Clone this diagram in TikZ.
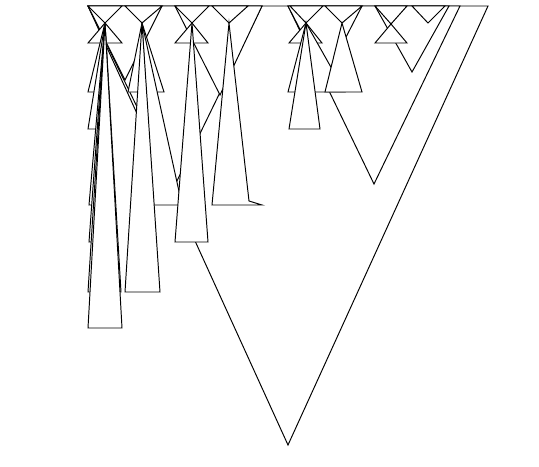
\documentclass[tikz,border=0pt]{standalone}
\begin{document}
\begin{tikzpicture}[x=0.02cm, y=-0.02cm,
	dreieck/.style={draw=black, fill=white, line width=0.55pt}]
	
	\useasboundingbox (0,0) rectangle (539,467);
	
	% Großes Dreieck
	\draw[dreieck] (88,6) -- (488,6) -- (288,445) -- cycle;
	
	% Linke und rechte Hälfte
	\draw[dreieck] (88,6) -- (262,6) -- (175,185) -- cycle;
	\draw[dreieck] (288,6) -- (460,6) -- (374,184) -- cycle;
	
	% Viertel
	\draw[dreieck] (88,6) -- (162,6) -- (125,80) -- cycle;
	\draw[dreieck] (175,6) -- (262,6) -- (220,95) -- cycle;
	\draw[dreieck] (288,6) -- (362,6) -- (325,78) -- cycle;
	\draw[dreieck] (375,6) -- (449,6) -- (412,72) -- cycle;
	
	% Kleine Dreiecke oben (Spitze nach unten)
	\draw[dreieck] (88,6) -- (122,6) -- (105,23) -- cycle;
	\draw[dreieck] (125,6) -- (162,6) -- (142,23) -- cycle;
	\draw[dreieck] (175,6) -- (209,6) -- (192,23) -- cycle;
	\draw[dreieck] (212,6) -- (248,6) -- (229,23) -- cycle;
	\draw[dreieck] (290,6) -- (323,6) -- (306,23) -- cycle;
	\draw[dreieck] (325,6) -- (362,6) -- (342,23) -- cycle;
	\draw[dreieck] (375,6) -- (407,6) -- (391,24) -- cycle;
	\draw[dreieck] (412,6) -- (445,6) -- (428,23) -- cycle;
	
	% Sanduhr: Dreiecke mit Spitze nach oben
	\draw[dreieck] (88,43) -- (122,43) -- (105,23) -- cycle;
	\draw[dreieck] (175,43) -- (208,43) -- (192,23) -- cycle;
	\draw[dreieck] (289,43) -- (322,43) -- (306,23) -- cycle;
	\draw[dreieck] (375,43) -- (407,43) -- (391,24) -- cycle;
	
	% Schmale hohe Dreiecke, Gruppe rechts
	\draw[dreieck] (306,23) -- (288,92) -- (300,92) -- cycle;
	\draw[dreieck] (306,23) -- (312,92) -- (345,92) -- cycle;
	\draw[dreieck] (342,23) -- (325,92) -- (362,92) -- cycle;
	\draw[dreieck] (306,23) -- (289,129) -- (320,129) -- cycle;
	
	% Schmale hohe Dreiecke, Gruppe links
	\draw[dreieck] (105,23) -- (88,92) -- (100,92) -- cycle;
	\draw[dreieck] (142,23) -- (128,92) -- (164,92) -- cycle;
	\draw[dreieck] (105,23) -- (88,129) -- (103,129) -- cycle;
	\draw[dreieck] (229,23) -- (212,205) -- (262,205) -- (249,201) -- cycle;
	\draw[dreieck] (105,23) -- (89,205) -- (112,205) -- cycle;
	\draw[dreieck] (142,23) -- (153,205) -- (182,205) -- cycle;
	\draw[dreieck] (192,23) -- (175,242) -- (208,242) -- cycle;
	\draw[dreieck] (105,23) -- (89,242) -- (116,242) -- cycle;
	\draw[dreieck] (105,23) -- (88,292) -- (121,292) -- cycle;
	\draw[dreieck] (142,23) -- (125,292) -- (160,292) -- cycle;
	\draw[dreieck] (105,23) -- (88,328) -- (122,328) -- cycle;
	
\end{tikzpicture}
\end{document}
